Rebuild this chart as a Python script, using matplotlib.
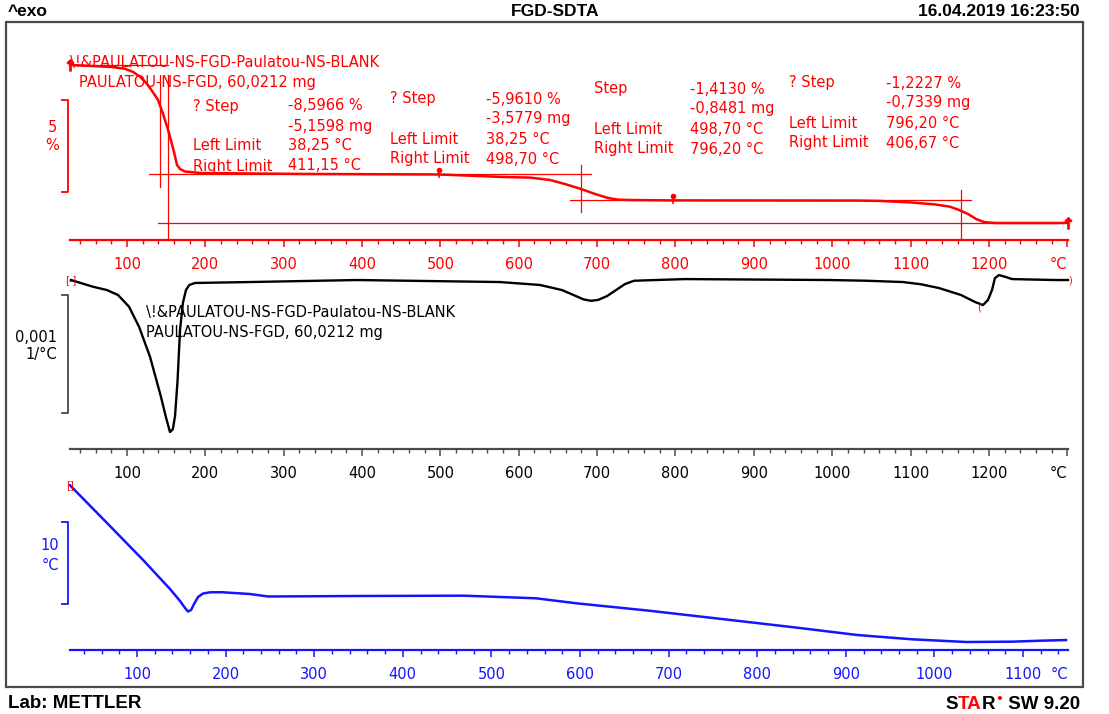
import matplotlib
matplotlib.use("Agg")
import matplotlib.pyplot as plt
import numpy as np
from matplotlib.patches import Rectangle
from matplotlib.ticker import MultipleLocator

W, H = 1109, 714
RED = "#ff0000"
BLUE = "#1414ff"
GREY = "#4a4a4a"
plt.rcParams["font.family"] = ["DejaVu Sans"]

# TGA curve, weight in % of the initial mass
tg_temp = [27.3, 79.6, 97.5, 107.7, 116.6, 124.3, 131.9, 139.6, 146.0, 153.6, 160.0, 163.8,
           167.7, 174.1, 194.5, 320.8, 498.7, 581.2, 614.3, 639.9, 659.0, 679.4, 697.3,
           713.9, 726.6, 742.0, 796.2, 1033.0, 1061.0, 1099.3, 1131.2, 1150.0, 1161.8,
           1173.3, 1183.5, 1193.7, 1207.7, 1300.9]
tg_weight = [100.00, 99.89, 99.79, 99.62, 99.36, 99.03, 98.59, 98.10, 97.34, 96.30, 95.27, 94.56,
             94.34, 94.20, 94.12, 94.07, 94.04, 93.90, 93.87, 93.74, 93.52, 93.25, 92.98,
             92.76, 92.67, 92.65, 92.63, 92.62, 92.60, 92.52, 92.41, 92.29, 92.11,
             91.89, 91.62, 91.45, 91.40, 91.40]

# first derivative of the weight curve (1/°C)
dtg_temp = [28.6, 56.7, 74.5, 88.6, 102.6, 115.4, 129.4, 143.4, 150.0, 154.9, 158.5, 161.3,
            164.5, 167.7, 171.5, 175.3, 179.5, 186.8, 257.0, 393.6, 576.0, 627.1, 655.2, 673.0,
            682.6, 692.2, 701.1, 712.6, 724.1, 735.6, 747.1, 812.0, 997.0, 1043.9, 1090.3,
            1113.3, 1136.3, 1164.4, 1182.2, 1192.4, 1198.8, 1203.9, 1207.7, 1212.9, 1221.8,
            1229.5, 1284.3, 1300.9]
dtg_rate = np.array([0.0, -0.057, -0.085, -0.127, -0.226, -0.396, -0.650, -0.990, -1.17, -1.288,
                     -1.265, -1.155, -0.86, -0.424, -0.19, -0.085, -0.042, -0.025, -0.017, 0.0,
                     -0.017, -0.042, -0.085, -0.136, -0.164, -0.176, -0.169, -0.136, -0.085,
                     -0.034, -0.006, 0.008, 0.0, -0.006, -0.017, -0.036, -0.068, -0.127, -0.186,
                     -0.212, -0.169, -0.085, 0.017, 0.042, 0.025, 0.008, 0.0, 0.0]) * 1e-3

# SDTA signal (°C)
dta_temp = [24.4, 66.2, 106.8, 137.3, 148.6, 154.2, 157.6, 161.0, 164.4, 168.9, 174.5, 182.4,
            196.0, 227.6, 247.9, 348.3, 469.0, 550.4, 595.9, 677.8, 759.6, 841.6, 913.2,
            974.6, 1036.0, 1087.6, 1120.0, 1148.6]
dta_delta = [13.5, 8.9, 4.4, 0.85, -0.61, -1.46, -1.89, -1.71, -0.98, -0.12, 0.30, 0.45,
             0.46, 0.24, -0.06, 0.0, 0.04, -0.28, -0.89, -1.79, -2.80, -3.82, -4.76,
             -5.28, -5.61, -5.57, -5.45, -5.37]

# step evaluation results
step_titles = ["? Step", "? Step", "Step", "? Step"]
step_pct = ["-8,5966 %", "-5,9610 %", "-1,4130 %", "-1,2227 %"]
step_mg = ["-5,1598 mg", "-3,5779 mg", "-0,8481 mg", "-0,7339 mg"]
step_left = ["38,25 °C", "38,25 °C", "498,70 °C", "796,20 °C"]
step_right = ["411,15 °C", "498,70 °C", "796,20 °C", "406,67 °C"]
limit_temp = [498.70, 796.20]
sample_name = "\\!&PAULATOU-NS-FGD-Paulatou-NS-BLANK"
sample_info = "PAULATOU-NS-FGD, 60,0212 mg"

fig = plt.figure(figsize=(W / 100, H / 100), dpi=100)


def fx(px):
    return px / W


def fy(py):
    return 1 - py / H


def panel(top, bottom, xlim, ylim, color, spine_color, last_major):
    ax = fig.add_axes([fx(70), fy(bottom), 998 / W, (bottom - top) / H])
    ax.patch.set_alpha(0)
    for side in ("left", "right", "top"):
        ax.spines[side].set_visible(False)
    ax.spines["bottom"].set_color(spine_color)
    ax.spines["bottom"].set_linewidth(1.6)
    ax.yaxis.set_visible(False)
    ax.set_xlim(*xlim)
    ax.set_ylim(*ylim)
    ticks = list(range(100, last_major + 1, 100))
    ax.set_xticks(ticks)
    ax.xaxis.set_minor_locator(MultipleLocator(20))
    ax.tick_params(axis="x", which="major", length=4.8, width=1.1, color=spine_color,
                   labelcolor=color, labelsize=10.5, pad=7.2)
    ax.tick_params(axis="x", which="minor", length=2.9, width=1.0, color=spine_color)
    return ax, ticks


def scale_bar(ax, y0, size, color):
    tr = ax.get_yaxis_transform()
    ax.plot([-0.0085, -0.002, -0.002, -0.0085], [y0, y0, y0 + size, y0 + size],
            color=color, lw=1.3, transform=tr, clip_on=False)


# --- TGA panel ---
ax1, t1 = panel(30, 240, (27.3, 1300.9), (90.475, 101.9), RED, RED, 1300)
ax1.set_xticklabels([str(t) for t in t1[:-1]] + ["°C"])
ax1.get_xticklabels()[-1].set_ha("right")
ax1.plot(tg_temp, tg_weight, color=RED, lw=1.8, clip_on=False)
# step evaluation construction lines
ax1.plot([27.3, 152.4], [tg_weight[0], tg_weight[0]], color=RED, lw=0.9)
ax1.plot([128.1, 692.2], [94.04, 94.04], color=RED, lw=0.9)
ax1.plot([665.4, 1177.2], [92.65, 92.65], color=RED, lw=0.9)
ax1.plot([139.6, 1290.0], [tg_weight[-1], tg_weight[-1]], color=RED, lw=0.9)
ax1.plot([142.2, 142.2], [93.36, 99.45], color=RED, lw=0.9)
ax1.plot([152.4, 152.4], [90.475, 99.45], color=RED, lw=0.9, clip_on=False)
ax1.plot([679.4, 679.4], [92.0, 94.56], color=RED, lw=0.9)
ax1.plot([1164.4, 1164.4], [90.475, 93.2], color=RED, lw=0.9, clip_on=False)
for t in limit_temp:
    w = np.interp(t, tg_temp, tg_weight)
    ax1.plot([t, t], [w - 0.15, w + 0.25], color=RED, lw=1.2)
    ax1.plot([t], [w + 0.25], "o", color=RED, ms=3)
ax1.plot([tg_temp[0]], [tg_weight[0]], marker=r"$\uparrow$", color=RED, ms=8, clip_on=False)
ax1.plot([tg_temp[-1]], [tg_weight[-1]], marker=r"$\uparrow$", color=RED, ms=8, clip_on=False)
scale_bar(ax1, 93.1, 5.0, RED)

fig.text(fx(70), fy(62), sample_name, color=RED, fontsize=10.5, va="center")
fig.text(fx(78.6), fy(82), sample_info, color=RED, fontsize=10.5, va="center")
fig.text(fx(52.5), fy(128), "5", color=RED, fontsize=10.5, va="center", ha="center")
fig.text(fx(52.5), fy(146), "%", color=RED, fontsize=10.5, va="center", ha="center")

label_x = [193, 390, 594, 789]
value_x = [288, 486, 690, 886]
row_y = [106, 99, 89, 83]
for i in range(4):
    y = row_y[i]
    fig.text(fx(label_x[i]), fy(y), step_titles[i], color=RED, fontsize=10.5, va="center")
    fig.text(fx(value_x[i]), fy(y), step_pct[i], color=RED, fontsize=10.5, va="center")
    fig.text(fx(value_x[i]), fy(y + 20), step_mg[i], color=RED, fontsize=10.5, va="center")
    fig.text(fx(label_x[i]), fy(y + 40), "Left Limit", color=RED, fontsize=10.5, va="center")
    fig.text(fx(value_x[i]), fy(y + 40), step_left[i], color=RED, fontsize=10.5, va="center")
    fig.text(fx(label_x[i]), fy(y + 60), "Right Limit", color=RED, fontsize=10.5, va="center")
    fig.text(fx(value_x[i]), fy(y + 60), step_right[i], color=RED, fontsize=10.5, va="center")

# --- DTG panel ---
ax2, t2 = panel(270, 449, (27.3, 1300.9), (-1.432e-3, 0.085e-3), "black", GREY, 1300)
ax2.set_xticklabels([str(t) for t in t2[:-1]] + ["°C"])
ax2.get_xticklabels()[-1].set_ha("right")
ax2.plot(dtg_temp, dtg_rate, color="black", lw=1.7, clip_on=False)
scale_bar(ax2, -1.127e-3, 1e-3, GREY)
ax2.text(dtg_temp[0], dtg_rate[0], "[-]", color=RED, fontsize=7, ha="center", va="center")
ax2.text(1187.3, -0.235e-3, "(", color=RED, fontsize=7, ha="center", va="center")
ax2.text(dtg_temp[-1], dtg_rate[-1], ")", color=RED, fontsize=7, ha="left", va="center",
         clip_on=False)
fig.text(fx(146), fy(312), sample_name, color="black", fontsize=10.5, va="center")
fig.text(fx(146), fy(332), sample_info, color="black", fontsize=10.5, va="center")
fig.text(fx(57), fy(337), "0,001", color="black", fontsize=10.5, va="center", ha="right")
fig.text(fx(57), fy(355), "1/°C", color="black", fontsize=10.5, va="center", ha="right")

# --- SDTA panel ---
ax3, t3 = panel(478, 650, (24.4, 1150.8), (-6.585, 14.39), BLUE, BLUE, 1100)
ax3.plot(dta_temp, dta_delta, color=BLUE, lw=1.8, clip_on=False)
ax3.annotate("°C", xy=(1, 0), xycoords="axes fraction", xytext=(0, -12.0),
             textcoords="offset points", ha="right", va="top", color=BLUE, fontsize=10.5)
ax3.text(dta_temp[0], dta_delta[0], "[]", color=RED, fontsize=7, ha="center", va="center")
scale_bar(ax3, -0.98, 10.0, BLUE)
fig.text(fx(50), fy(546), "10", color=BLUE, fontsize=10.5, va="center", ha="center")
fig.text(fx(50), fy(566), "°C", color=BLUE, fontsize=10.5, va="center", ha="center")

# outer frame
fig.add_artist(Rectangle((fx(6), fy(687)), fx(1083) - fx(6), fy(22) - fy(687),
                         transform=fig.transFigure, fill=False, ec=GREY, lw=1.6))

# header and footer
bold = ["Liberation Sans", "DejaVu Sans"]
hdr = dict(fontsize=12.5, fontweight="bold", family=bold, va="center")
fig.text(fx(8), fy(12), "^exo", ha="left", **hdr)
fig.text(fx(555), fy(12), "FGD-SDTA", ha="center", **hdr)
fig.text(fx(1080), fy(12), "16.04.2019 16:23:50", ha="right", **hdr)

ftr = dict(fontsize=13.5, fontweight="bold", family=bold)
fig.text(fx(8), fy(703), "Lab: METTLER", ha="left", va="center", **ftr)
base = fy(709)
t_sw = fig.text(fx(1080), base, " SW 9.20", ha="right", va="baseline", color="black", **ftr)
t_dot = plt.annotate("•", xy=(0, base + 6 / H), xycoords=(t_sw, "figure fraction"),
                     ha="right", va="baseline", color=RED, fontsize=9, fontweight="bold")
t_r = plt.annotate("R", xy=(0, base), xycoords=(t_dot, "figure fraction"),
                   ha="right", va="baseline", color="black", **ftr)
t_ta = plt.annotate("TA", xy=(0, base), xycoords=(t_r, "figure fraction"),
                    ha="right", va="baseline", color=RED, **ftr)
plt.annotate("S", xy=(0, base), xycoords=(t_ta, "figure fraction"),
             ha="right", va="baseline", color="black", **ftr)

fig.savefig("out.png", dpi=100)
